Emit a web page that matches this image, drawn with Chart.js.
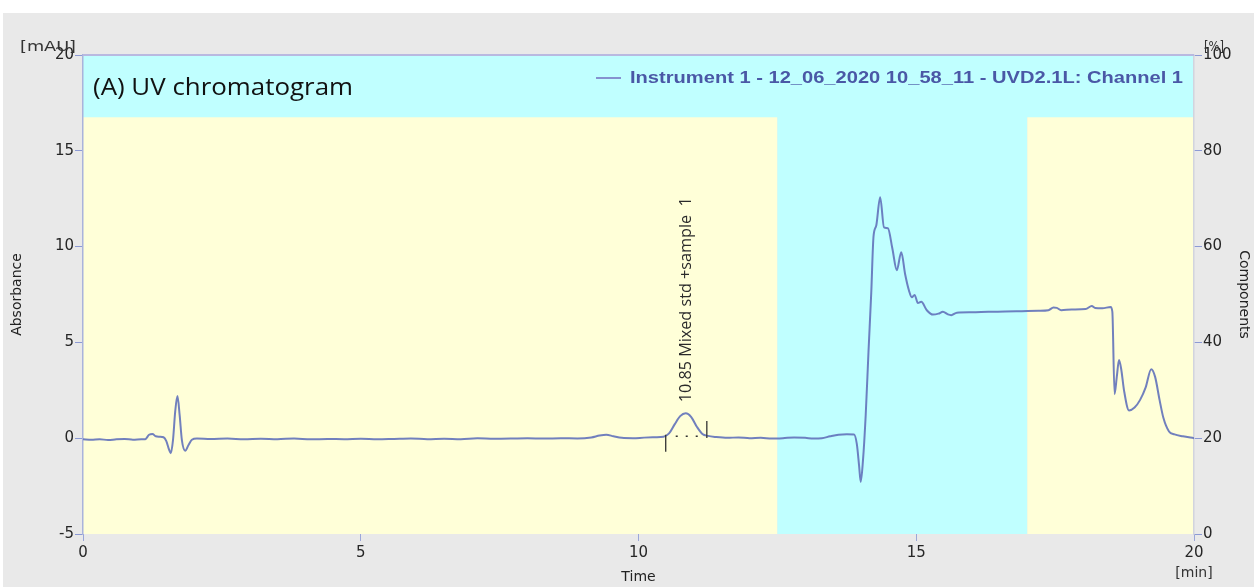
<!DOCTYPE html>
<html>
<head>
<meta charset="utf-8">
<title>UV chromatogram</title>
<script src="https://cdn.jsdelivr.net/npm/chart.js@4.4.1/dist/chart.umd.min.js"></script>
<style>
  html, body { margin: 0; padding: 0; background: #ffffff; }
  #wrap { position: relative; width: 1254px; height: 587px; }
</style>
</head>
<body>
<div id="wrap"><canvas id="chrom" width="1254" height="587"></canvas></div>
<script>
// Retention time (min) of each sample of the UV trace
const timeMin = [
  0.00, 0.15, 0.30, 0.45, 0.60, 0.75, 0.90, 1.05, 1.12, 1.19,
  1.25, 1.31, 1.38, 1.45, 1.50, 1.55, 1.58, 1.62, 1.66, 1.70,
  1.74, 1.78, 1.84, 1.90, 1.96, 2.05, 2.30, 2.60, 2.90, 3.20,
  3.50, 3.80, 4.10, 4.40, 4.70, 5.00, 5.30, 5.60, 5.90, 6.20,
  6.50, 6.80, 7.10, 7.40, 7.70, 8.00, 8.30, 8.60, 8.90, 9.15,
  9.30, 9.42, 9.55, 9.70, 9.90, 10.10, 10.30, 10.45, 10.55, 10.65,
  10.75, 10.85, 10.95, 11.05, 11.15, 11.25, 11.40, 11.60, 11.80, 12.00,
  12.20, 12.40, 12.60, 12.80, 13.00, 13.15, 13.30, 13.45, 13.60, 13.75,
  13.88, 13.93, 13.97, 14.00, 14.04, 14.09, 14.14, 14.19, 14.23, 14.28,
  14.35, 14.42, 14.49, 14.57, 14.65, 14.73, 14.80, 14.87, 14.92, 14.97,
  15.03, 15.09, 15.19, 15.30, 15.40, 15.48, 15.57, 15.63, 15.73, 16.00,
  16.30, 16.60, 16.90, 17.20, 17.38, 17.47, 17.53, 17.61, 17.80, 18.05,
  18.16, 18.22, 18.35, 18.50, 18.53, 18.57, 18.61, 18.65, 18.69, 18.74,
  18.83, 18.93, 19.03, 19.13, 19.23, 19.30, 19.38, 19.45, 19.55, 19.65,
  19.80, 20.00
];

// Absorbance (mAU) at each retention time
const absorbance = [
  -0.05, -0.08, -0.05, -0.10, -0.06, -0.04, -0.08, -0.06, -0.05, 0.18,
  0.22, 0.10, 0.08, 0.05, -0.15, -0.60, -0.78, -0.10, 1.40, 2.20,
  1.20, -0.10, -0.65, -0.35, -0.08, -0.02, -0.04, -0.02, -0.06, -0.03,
  -0.05, -0.02, -0.06, -0.04, -0.05, -0.03, -0.06, -0.04, -0.02, -0.05,
  -0.03, -0.05, 0.00, -0.03, -0.02, 0.00, -0.02, 0.00, -0.01, 0.04,
  0.14, 0.18, 0.10, 0.02, 0.00, 0.03, 0.05, 0.08, 0.25, 0.72,
  1.15, 1.30, 1.10, 0.60, 0.22, 0.12, 0.06, 0.02, 0.04, 0.00,
  0.02, -0.02, 0.00, 0.04, 0.02, -0.02, 0.00, 0.10, 0.18, 0.20,
  0.19, -0.30, -1.40, -2.28, -1.20, 1.20, 4.50, 7.60, 10.50, 11.10,
  12.58, 11.00, 10.96, 9.90, 8.77, 9.70, 8.56, 7.70, 7.36, 7.48,
  7.05, 7.12, 6.68, 6.45, 6.50, 6.60, 6.46, 6.42, 6.55, 6.57,
  6.60, 6.61, 6.63, 6.65, 6.68, 6.82, 6.80, 6.68, 6.72, 6.74,
  6.90, 6.80, 6.78, 6.85, 6.60, 2.30, 3.20, 4.08, 3.60, 2.50,
  1.45, 1.60, 2.00, 2.65, 3.60, 3.20, 2.00, 1.05, 0.35, 0.20,
  0.10, 0.00
];

// Axis tick values
const absTicks = [-5, 0, 5, 10, 15, 20];
const compTicks = [0, 20, 40, 60, 80, 100];
const timeTicks = [0, 5, 10, 15, 20];

// Shaded time segments (min) and their fill
const segStart = [0, 12.5, 17.0];
const segEnd = [12.5, 17.0, 20];
const segFill = ['#ffffd8', '#c0ffff', '#ffffd8'];

// Upper band, in % of the Components axis
const bandFrom = [87];
const bandTo = [100];

// Integrated peak: apex, and baseline start / end points
const peakName = ['10.85 Mixed std +sample  1'];
const peakApex = [10.85, 1.30];
const peakBaseStart = [10.49, 0.08];
const peakBaseEnd = [11.23, 0.12];

const traceName = 'Instrument 1 - 12_06_2020 10_58_11 - UVD2.1L: Channel 1';
const panelTitle = '(A) UV chromatogram';

function fitText(ctx, text, x, y, width) {
  const w = ctx.measureText(text).width;
  ctx.save();
  ctx.translate(x, y);
  ctx.scale(width / w, 1);
  ctx.fillText(text, 0, 0);
  ctx.restore();
}

const backdrop = {
  id: 'backdrop',
  beforeDraw(chart) {
    const { ctx, chartArea: a, scales } = chart;
    const x = scales.x, y2 = scales.y2;
    ctx.save();
    ctx.fillStyle = '#ffffff';
    ctx.fillRect(0, 0, chart.width, chart.height);
    ctx.fillStyle = '#e9e9e9';
    ctx.fillRect(3, 13, chart.width - 3, chart.height - 13);
    for (let i = 0; i < segStart.length; i++) {
      const l = x.getPixelForValue(segStart[i]);
      const r = x.getPixelForValue(segEnd[i]);
      ctx.fillStyle = segFill[i];
      ctx.fillRect(l, a.top, r - l, a.bottom - a.top);
    }
    const bt = y2.getPixelForValue(bandTo[0]);
    const bb = y2.getPixelForValue(bandFrom[0]);
    ctx.fillStyle = '#c0ffff';
    ctx.fillRect(a.left, bt, a.right - a.left, bb - bt);
    ctx.restore();
  },
  afterDraw(chart) {
    const { ctx, chartArea: a, scales } = chart;
    const x = scales.x, y = scales.y;
    ctx.save();
    // top frame line
    ctx.strokeStyle = '#b9b9e0';
    ctx.lineWidth = 2;
    ctx.beginPath();
    ctx.moveTo(a.left, a.top);
    ctx.lineTo(a.right, a.top);
    ctx.stroke();

    // unit labels
    ctx.fillStyle = '#333333';
    ctx.font = '14px "DejaVu Sans"';
    ctx.textBaseline = 'middle';
    ctx.textAlign = 'left';
    fitText(ctx, '[mAU]', 20, a.top - 8, 56);
    fitText(ctx, '[%]', a.right + 10, a.top - 8, 20);
    ctx.textAlign = 'center';
    ctx.fillText('[min]', x.getPixelForValue(timeTicks[timeTicks.length - 1]), 573);

    // panel title
    ctx.fillStyle = '#111111';
    ctx.textAlign = 'left';
    ctx.textBaseline = 'alphabetic';
    ctx.font = '24px "Open Sans"';
    fitText(ctx, panelTitle, a.left + 10, a.top + 40, 260);

    // legend entry
    ctx.strokeStyle = '#8592cf';
    ctx.lineWidth = 2;
    ctx.beginPath();
    ctx.moveTo(596, 78);
    ctx.lineTo(621, 78);
    ctx.stroke();
    ctx.fillStyle = '#4a58a6';
    ctx.font = 'bold 16px "Liberation Sans"';
    ctx.textBaseline = 'middle';
    fitText(ctx, traceName, 630, 79, 553);

    // peak baseline markers
    const xs = x.getPixelForValue(peakBaseStart[0]);
    const ys = y.getPixelForValue(peakBaseStart[1]);
    const xe = x.getPixelForValue(peakBaseEnd[0]);
    const ye = y.getPixelForValue(peakBaseEnd[1]);
    ctx.strokeStyle = '#333333';
    ctx.lineWidth = 1.3;
    ctx.beginPath();
    ctx.moveTo(xs, ys - 2);
    ctx.lineTo(xs, ys + 15);
    ctx.moveTo(xe, ye + 2);
    ctx.lineTo(xe, ye - 15);
    ctx.stroke();
    ctx.setLineDash([2, 8]);
    ctx.lineWidth = 1.6;
    ctx.beginPath();
    ctx.moveTo(xs + 10, (ys + ye) / 2);
    ctx.lineTo(xe - 6, (ys + ye) / 2);
    ctx.stroke();
    ctx.setLineDash([]);

    // peak label, rotated
    const px = x.getPixelForValue(peakApex[0]);
    const py = y.getPixelForValue(peakApex[1]);
    ctx.fillStyle = '#2a2a2a';
    ctx.font = '16px "Open Sans"';
    ctx.textAlign = 'left';
    ctx.textBaseline = 'middle';
    ctx.save();
    ctx.translate(px + 1, py - 11);
    ctx.rotate(-Math.PI / 2);
    fitText(ctx, peakName[0], 0, 0, 205);
    ctx.restore();
    ctx.restore();
  }
};

const tickFont = { family: 'DejaVu Sans', size: 15 };
const titleFont = { family: 'DejaVu Sans', size: 14 };

new Chart(document.getElementById('chrom'), {
  type: 'line',
  data: {
    datasets: [{
      label: traceName,
      data: timeMin.map((t, i) => ({ x: t, y: absorbance[i] })),
      borderColor: 'rgba(98, 114, 186, 0.9)',
      borderWidth: 2,
      pointRadius: 0,
      cubicInterpolationMode: 'monotone',
      yAxisID: 'y'
    }]
  },
  options: {
    responsive: false,
    animation: false,
    events: [],
    layout: { padding: { top: 55, left: 0, right: 0, bottom: 0 } },
    plugins: { legend: { display: false }, tooltip: { enabled: false } },
    scales: {
      x: {
        type: 'linear',
        min: 0, max: 20,
        afterBuildTicks: s => { s.ticks = timeTicks.map(v => ({ value: v })); },
        afterFit: s => { s.height = 53; },
        ticks: { font: tickFont, color: '#262626', padding: 3, maxRotation: 0 },
        grid: { drawOnChartArea: false, drawTicks: true, tickLength: 7, color: '#9aa6d8' },
        border: { display: false },
        title: { display: true, text: 'Time', font: titleFont, color: '#222222', padding: { top: 0, bottom: 1 } }
      },
      y: {
        type: 'linear',
        position: 'left',
        min: -5, max: 20,
        afterBuildTicks: s => { s.ticks = absTicks.map(v => ({ value: v })); },
        afterFit: s => { s.width = 83; },
        ticks: { font: tickFont, color: '#262626', padding: 1 },
        grid: { drawOnChartArea: false, drawTicks: true, tickLength: 8, color: '#8c9ad4' },
        border: { display: true, color: '#a9b3dc', width: 1.5 },
        title: { display: true, text: 'Absorbance', font: titleFont, color: '#222222', padding: { top: 9, bottom: 0 } }
      },
      y2: {
        type: 'linear',
        position: 'right',
        min: 0, max: 100,
        afterBuildTicks: s => { s.ticks = compTicks.map(v => ({ value: v })); },
        afterFit: s => { s.width = 60; },
        ticks: { font: tickFont, color: '#262626', padding: 1 },
        grid: { drawOnChartArea: false, drawTicks: true, tickLength: 8, color: '#8c9ad4' },
        border: { display: true, color: '#d2d4de', width: 1.5 },
        title: { display: true, text: 'Components', font: titleFont, color: '#222222', padding: { top: 2, bottom: 0 } }
      }
    }
  },
  plugins: [backdrop]
});
</script>
</body>
</html>
